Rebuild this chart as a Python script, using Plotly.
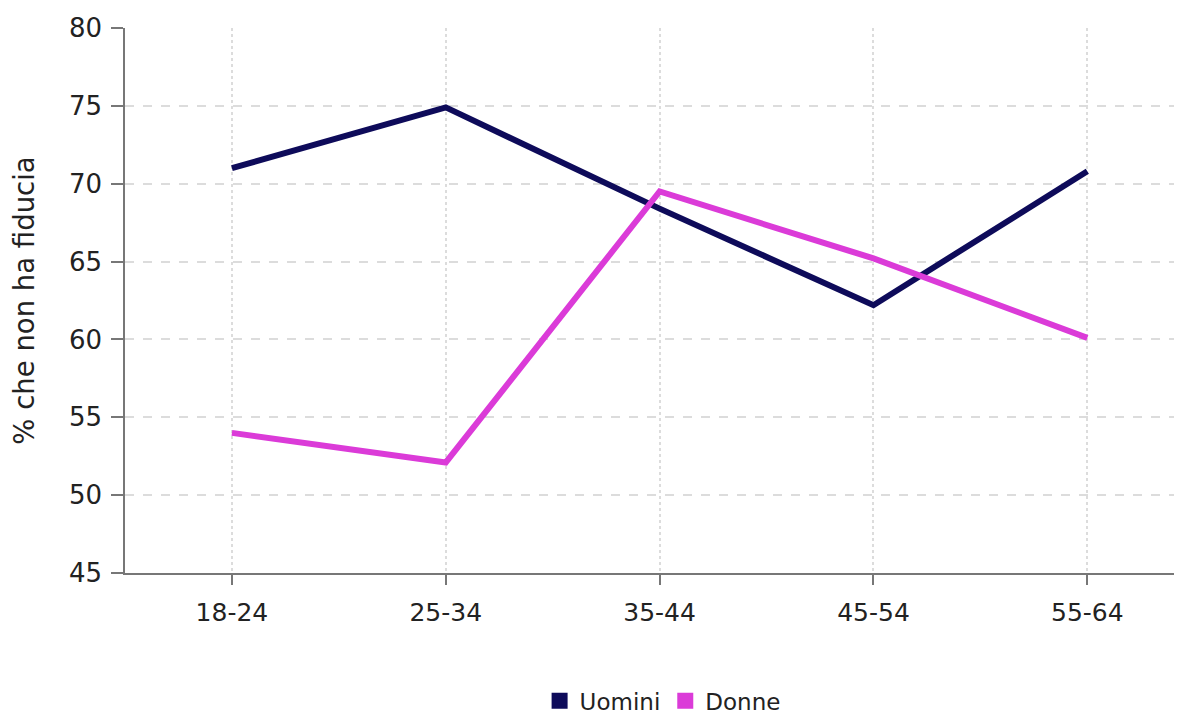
import plotly.graph_objects as go

categories = ["18-24", "25-34", "35-44", "45-54", "55-64"]
uomini = [71.0, 74.9, 68.4, 62.2, 70.8]
donne = [54.0, 52.1, 69.5, 65.2, 60.1]
y_ticks = [45, 50, 55, 60, 65, 70, 75, 80]

c_u = "#0e0b5a"
c_d = "#db3bd8"
font = "DejaVu Sans, sans-serif"

fig = go.Figure()
fig.add_trace(go.Scatter(x=categories, y=uomini, mode="lines", line=dict(color=c_u, width=6), showlegend=False, name="Uomini"))
fig.add_trace(go.Scatter(x=categories, y=donne, mode="lines", line=dict(color=c_d, width=6), showlegend=False, name="Donne"))
fig.add_trace(go.Scatter(x=[None], y=[None], mode="markers", marker=dict(symbol="square", size=22, color=c_u), name="Uomini"))
fig.add_trace(go.Scatter(x=[None], y=[None], mode="markers", marker=dict(symbol="square", size=22, color=c_d), name="Donne"))

fig.update_layout(
    width=1182, height=718,
    margin=dict(l=117, r=15, t=20, b=153, autoexpand=False),
    plot_bgcolor="white", paper_bgcolor="white",
    font=dict(family=font, size=25, color="#222"),
    legend=dict(orientation="h", x=0.512, xanchor="center", y=-0.195, yanchor="top",
                font=dict(size=23), itemwidth=30, tracegroupgap=0),
)
fig.update_xaxes(
    type="category", range=[-0.5, 4.41],
    showline=True, linecolor="#777", linewidth=2,
    ticks="outside", ticklen=10, tickcolor="#777", tickwidth=2,
    showgrid=True, gridcolor="#dcdcdc", griddash="dot", gridwidth=1.5,
    tickfont=dict(size=25), ticklabelstandoff=6,
)
fig.update_yaxes(
    range=[45, 80], tickvals=y_ticks,
    showline=True, linecolor="#777", linewidth=1.5,
    ticks="outside", ticklen=12, tickcolor="#777", tickwidth=1.5,
    showgrid=True, gridcolor="#dcdcdc", griddash="dash", gridwidth=1.5,
    zeroline=False,
    title=dict(text="% che non ha fiducia", font=dict(size=27.5), standoff=28),
    tickfont=dict(size=26), ticklabelstandoff=4,
)
fig.write_html("out.html")
